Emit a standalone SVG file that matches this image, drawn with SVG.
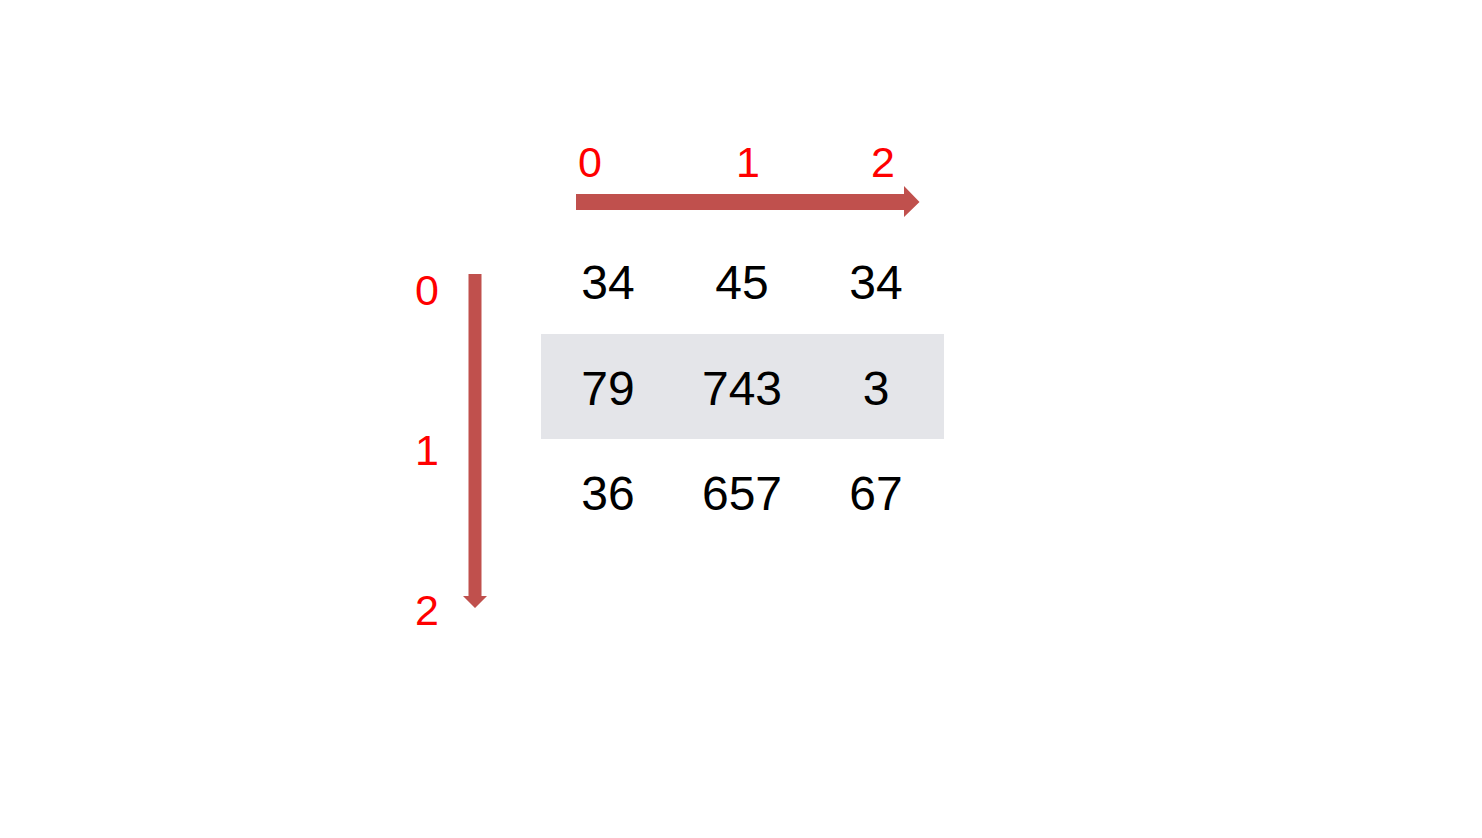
<svg xmlns="http://www.w3.org/2000/svg" width="1482" height="838" viewBox="0 0 1482 838">
<style>
.idx{font-family:"Liberation Sans",Arial,sans-serif;font-size:43px;fill:#FF0000;text-anchor:middle}
.val{font-family:"Liberation Sans",Arial,sans-serif;font-size:48px;fill:#000;text-anchor:middle}
.arr{fill:#C0504D}
</style>
<rect width="1482" height="838" fill="#fff"/>
<g id="highlight"><rect x="541" y="334" width="403" height="105" fill="#E4E5E9"/></g>
<g id="connectors">
<polygon class="arr" points="576,194 904,194 904,186 919.5,202 904,217 904,210 576,210"/>
<polygon class="arr" points="468.5,274 481.5,274 481.5,596 487,596 475,608 463,596 468.5,596"/>
</g>
<g id="col-labels">
<text class="idx" x="590" y="177">0</text>
<text class="idx" x="748" y="177">1</text>
<text class="idx" x="883" y="177">2</text>
</g>
<g id="row-labels">
<text class="idx" x="427" y="305">0</text>
<text class="idx" x="427" y="465">1</text>
<text class="idx" x="427" y="625">2</text>
</g>
<g id="row0">
<text class="val" x="608" y="299">34</text>
<text class="val" x="742" y="299">45</text>
<text class="val" x="876" y="299">34</text>
</g>
<g id="row1">
<text class="val" x="608" y="405">79</text>
<text class="val" x="742" y="405">743</text>
<text class="val" x="876" y="405">3</text>
</g>
<g id="row2">
<text class="val" x="608" y="510">36</text>
<text class="val" x="742" y="510">657</text>
<text class="val" x="876" y="510">67</text>
</g>
</svg>
